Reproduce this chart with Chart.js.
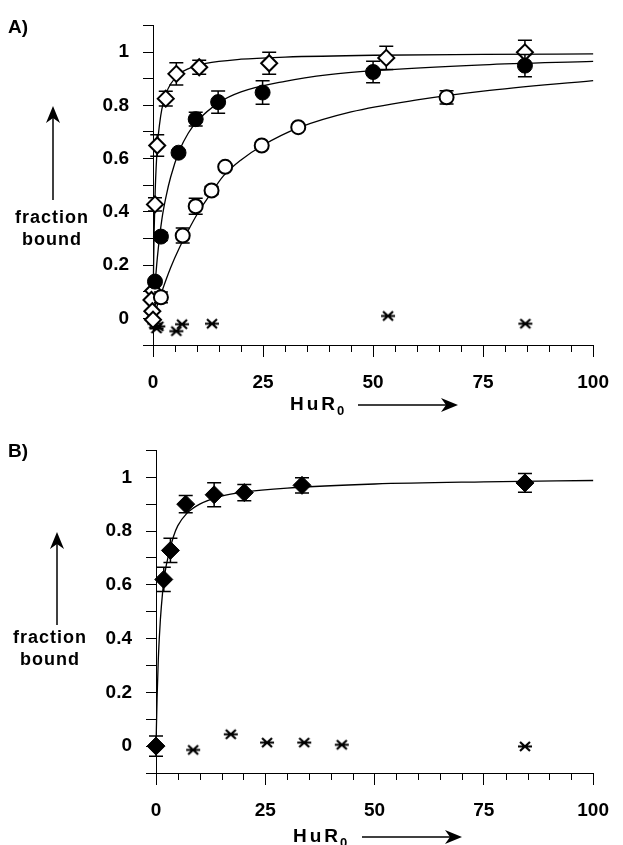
<!DOCTYPE html>
<html>
<head>
<meta charset="utf-8">
<script src="https://cdn.jsdelivr.net/npm/chart.js@4.4.0/dist/chart.umd.min.js"></script>
<style>
  body { margin: 0; background: #fff; }
  canvas { display: block; }
</style>
</head>
<body>
<canvas id="chartA" width="623" height="425"></canvas>
<canvas id="chartB" width="623" height="420"></canvas>
<script>
// ---- Panel A data ----
const diamondAx = [0.05, -0.35, -0.15, 0.0, 0.45, 0.96, 2.9, 5.3, 10.5, 26.4, 53, 84.5];
const diamondAy = [0.104, 0.069, 0.027, -0.005, 0.428, 0.649, 0.825, 0.918, 0.943, 0.958, 0.978, 0.999];
const diamondAerr = [0, 0, 0, 0, 0.025, 0.04, 0.028, 0.042, 0.026, 0.041, 0.044, 0.045];

const filledAx = [0.45, 1.8, 5.8, 9.7, 14.8, 24.9, 50, 84.5];
const filledAy = [0.138, 0.307, 0.622, 0.748, 0.812, 0.848, 0.925, 0.949];
const filledAerr = [0.01, 0.015, 0.01, 0.026, 0.042, 0.044, 0.04, 0.042];

const openAx = [1.8, 6.75, 9.7, 13.3, 16.4, 24.7, 33.0, 66.7];
const openAy = [0.079, 0.311, 0.421, 0.48, 0.569, 0.649, 0.718, 0.83];
const openAerr = [0.02, 0.028, 0.03, 0.015, 0.01, 0.01, 0.01, 0.025];

const crossAx = [0.3, 0.8, 1.2, 5.3, 6.6, 13.4, 53.4, 84.6];
const crossAy = [-0.02, -0.038, -0.03, -0.048, -0.022, -0.02, 0.009, -0.02];

// fitted curves
const curveDiamondAx = [0, 0.1, 0.25, 0.5, 1, 1.5, 2, 3, 4, 6, 8, 12, 20, 30, 50, 75, 100];
const curveDiamondAy = [0, 0.16, 0.32, 0.48, 0.65, 0.73, 0.785, 0.845, 0.88, 0.918, 0.937, 0.957, 0.973, 0.981, 0.988, 0.991, 0.993];
const curveFilledAx = [0, 0.5, 1, 2, 3, 4, 6, 8, 10, 15, 20, 30, 40, 50, 75, 100];
const curveFilledAy = [0, 0.13, 0.23, 0.37, 0.46, 0.53, 0.63, 0.695, 0.74, 0.81, 0.85, 0.89, 0.915, 0.93, 0.952, 0.965];
const curveOpenAx = [0, 1, 2, 4, 6, 8, 10, 13, 16, 20, 25, 33, 45, 60, 75, 100];
const curveOpenAy = [0, 0.05, 0.1, 0.19, 0.265, 0.33, 0.39, 0.465, 0.535, 0.595, 0.65, 0.715, 0.775, 0.82, 0.853, 0.893];

// ---- Panel B data ----
const diamondBx = [0, 1.78, 3.3, 6.8, 13.3, 20.2, 33.4, 84.4];
const diamondBy = [0, 0.62, 0.728, 0.9, 0.935, 0.943, 0.97, 0.979];
const diamondBerr = [0.038, 0.045, 0.045, 0.032, 0.045, 0.03, 0.028, 0.035];

const crossBx = [8.5, 17.1, 25.4, 33.9, 42.5, 84.4];
const crossBy = [-0.014, 0.044, 0.013, 0.013, 0.005, -0.001];

const curveBx = [0, 0.25, 0.5, 0.75, 1, 1.5, 2, 3, 4, 5, 7, 10, 15, 20, 30, 50, 75, 100];
const curveBy = [0, 0.18, 0.31, 0.4, 0.47, 0.57, 0.64, 0.72, 0.78, 0.82, 0.865, 0.9, 0.93, 0.945, 0.96, 0.975, 0.983, 0.988];

// axis ticks
const xMajor = [0, 25, 50, 75, 100];
const yLabels = [0, 0.2, 0.4, 0.6, 0.8, 1];

const FONT = '"Liberation Sans", Arial, sans-serif';
const pts = (xs, ys) => xs.map((x, i) => ({ x: x, y: ys[i] }));

// 6-armed cross marker
const crossMark = document.createElement('canvas');
crossMark.width = 16; crossMark.height = 13;
(function () {
  const c = crossMark.getContext('2d');
  c.strokeStyle = '#000'; c.lineWidth = 2.2;
  c.beginPath();
  c.moveTo(3, 2); c.lineTo(13, 11);
  c.moveTo(3, 11); c.lineTo(13, 2);
  c.moveTo(1, 6.5); c.lineTo(15, 6.5);
  c.stroke();
})();

// error bars are drawn just before their markers
const errorBars = {
  id: 'errorBars',
  beforeDatasetDraw(chart, args) {
    const ds = chart.data.datasets[args.index];
    if (!ds.err) return;
    const ctx = chart.ctx, y = chart.scales.y;
    ctx.save();
    ctx.strokeStyle = '#000'; ctx.lineWidth = 1.5;
    args.meta.data.forEach((el, i) => {
      const e = ds.err[i];
      if (!e) return;
      const v = ds.data[i].y;
      const top = y.getPixelForValue(v + e), bot = y.getPixelForValue(v - e);
      ctx.beginPath();
      ctx.moveTo(el.x, top); ctx.lineTo(el.x, bot);
      ctx.moveTo(el.x - 7, top); ctx.lineTo(el.x + 7, top);
      ctx.moveTo(el.x - 7, bot); ctx.lineTo(el.x + 7, bot);
      ctx.stroke();
    });
    ctx.restore();
  }
};

// short minor ticks on x every 5
const minorTicks = {
  id: 'minorTicks',
  afterDraw(chart) {
    const ctx = chart.ctx, x = chart.scales.x, yb = chart.chartArea.bottom;
    ctx.save();
    ctx.strokeStyle = '#000'; ctx.lineWidth = 1;
    ctx.beginPath();
    for (let v = 5; v < 100; v += 5) {
      if (v % 25 === 0) continue;
      const px = Math.round(x.getPixelForValue(v)) + 0.5;
      ctx.moveTo(px, yb); ctx.lineTo(px, yb + 7);
    }
    ctx.stroke();
    ctx.restore();
  }
};

function arrow(ctx, x0, y0, x1, y1) {
  const a = Math.atan2(y1 - y0, x1 - x0);
  ctx.lineWidth = 1.5;
  ctx.beginPath(); ctx.moveTo(x0, y0);
  ctx.lineTo(x1 - 8 * Math.cos(a), y1 - 8 * Math.sin(a)); ctx.stroke();
  ctx.save();
  ctx.translate(x1, y1); ctx.rotate(a);
  ctx.beginPath();
  ctx.moveTo(0, 0); ctx.lineTo(-17, -7); ctx.lineTo(-12, 0); ctx.lineTo(-17, 7);
  ctx.closePath(); ctx.fill();
  ctx.restore();
}

const annotate = {
  id: 'annotate',
  afterDraw(chart, args, o) {
    const ctx = chart.ctx;
    ctx.save();
    ctx.fillStyle = '#000'; ctx.strokeStyle = '#000';
    ctx.textBaseline = 'top'; ctx.textAlign = 'left';
    ctx.font = 'bold 19px ' + FONT;
    ctx.fillText(o.panel, 8, o.panelY);

    ctx.font = 'bold 18px ' + FONT;
    ctx.letterSpacing = '1px';
    ctx.textAlign = 'center'; ctx.textBaseline = 'middle';
    ctx.fillText('fraction', o.fracX, o.fracY);
    ctx.fillText('bound', o.fracX, o.fracY + 22);
    arrow(ctx, o.upX, o.upY0, o.upX, o.upY1);

    ctx.textAlign = 'left';
    ctx.font = 'bold 19px ' + FONT;
    ctx.letterSpacing = '3px';
    ctx.fillText('HuR', o.hurX, o.hurY);
    const w = ctx.measureText('HuR').width;
    ctx.font = 'bold 13px ' + FONT;
    ctx.letterSpacing = '0px';
    ctx.fillText('0', o.hurX + w - 1, o.hurY + 6);
    arrow(ctx, o.rightX0, o.hurY, o.rightX1, o.hurY);
    ctx.restore();
  }
};

function makePanel(id, area, datasets, notes) {
  const cv = document.getElementById(id);
  const W = cv.width, H = cv.height;
  return new Chart(cv, {
    type: 'scatter',
    data: { datasets: datasets },
    plugins: [errorBars, minorTicks, annotate],
    options: {
      responsive: false,
      animation: false,
      events: [],
      layout: { padding: { top: area.top, right: W - area.right, bottom: 0, left: 0 } },
      scales: {
        x: {
          type: 'linear', min: 0, max: 100,
          afterFit: s => { s.height = H - area.bottom; },
          afterBuildTicks: s => { s.ticks = xMajor.map(v => ({ value: v })); },
          border: { display: true, color: '#000', width: 1 },
          grid: { drawOnChartArea: false, drawTicks: true, tickLength: 12, tickColor: '#000' },
          ticks: { color: '#000', padding: 14, autoSkip: false, maxRotation: 0,
            font: { family: FONT, size: 19, weight: 'bold' } }
        },
        y: {
          type: 'linear', min: -0.1, max: 1.1,
          afterFit: s => { s.width = area.left; },
          afterBuildTicks: s => {
            const t = [];
            for (let k = -1; k <= 11; k++) t.push({ value: k / 10 });
            s.ticks = t;
          },
          border: { display: true, color: '#000', width: 1 },
          grid: { drawOnChartArea: false, drawTicks: true, tickLength: 10, tickColor: '#000' },
          ticks: {
            color: '#000', padding: 14, autoSkip: false,
            font: { family: FONT, size: 19, weight: 'bold' },
            callback: v => {
              const hit = yLabels.find(l => Math.abs(l - v) < 1e-6);
              return hit === undefined ? '' : String(hit);
            }
          }
        }
      },
      plugins: {
        legend: { display: false },
        tooltip: { enabled: false },
        annotate: notes
      }
    }
  });
}

const curveStyle = { showLine: true, pointRadius: 0, borderColor: '#000', borderWidth: 1.3,
  cubicInterpolationMode: 'monotone', order: 10, clip: false };
const openStyle = { pointBackgroundColor: '#fff', pointBorderColor: '#000', pointBorderWidth: 2, order: 0, clip: false };
const fillStyle = { pointBackgroundColor: '#000', pointBorderColor: '#000', pointBorderWidth: 1, order: 0, clip: false };

makePanel('chartA', { left: 153, right: 602, top: 21, bottom: 345 }, [
  Object.assign({ data: pts(curveOpenAx, curveOpenAy) }, curveStyle),
  Object.assign({ data: pts(curveFilledAx, curveFilledAy) }, curveStyle),
  Object.assign({ data: pts(curveDiamondAx, curveDiamondAy) }, curveStyle),
  { data: pts(crossAx, crossAy), pointStyle: crossMark, order: 1, clip: false },
  Object.assign({ data: pts(openAx, openAy), err: openAerr, pointStyle: 'circle', pointRadius: 7 }, openStyle),
  Object.assign({ data: pts(filledAx, filledAy), err: filledAerr, pointStyle: 'circle', pointRadius: 7.5 }, fillStyle),
  Object.assign({ data: pts(diamondAx, diamondAy), err: diamondAerr, pointStyle: 'rectRot', pointRadius: 8 }, openStyle)
], {
  panel: 'A)', panelY: 18,
  fracX: 52, fracY: 218, upX: 53, upY0: 200, upY1: 106,
  hurX: 290, hurY: 405, rightX0: 358, rightX1: 458
});

makePanel('chartB', { left: 156, right: 606, top: 22, bottom: 348 }, [
  Object.assign({ data: pts(curveBx, curveBy) }, curveStyle),
  { data: pts(crossBx, crossBy), pointStyle: crossMark, order: 1, clip: false },
  Object.assign({ data: pts(diamondBx, diamondBy), err: diamondBerr, pointStyle: 'rectRot', pointRadius: 9 }, fillStyle)
], {
  panel: 'B)', panelY: 17,
  fracX: 50, fracY: 213, upX: 57, upY0: 200, upY1: 107,
  hurX: 293, hurY: 412, rightX0: 362, rightX1: 462
});
</script>
</body>
</html>
